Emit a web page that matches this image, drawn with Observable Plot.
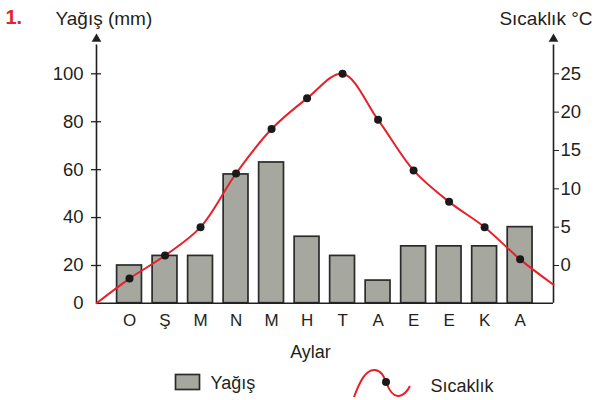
<!DOCTYPE html>
<html><head><meta charset="utf-8">
<script src="https://cdn.jsdelivr.net/npm/d3@7"></script>
<script src="https://cdn.jsdelivr.net/npm/@observablehq/plot@0.6"></script>
<style>
body{margin:0;background:#fff;font-family:"Liberation Sans",Arial,sans-serif;}
#chart{width:594px;}
#legend{display:block;}
</style>
</head><body><div id="chart"></div>
<script>
// ---- data ----
const months = ["O","Ş","M","N","M","H","T","A","E","E","K","A"];
const precipitation = [20,24,24,58,63,32,24,12,28,28,28,36];
const temperature = [-1.7,1.3,5.0,12.0,17.8,21.8,25.0,19.0,12.4,8.3,5.0,0.8];
const tempStart = -4.9; // where the curve leaves the left axis
const tempEnd = -2.5;   // where the curve meets the right axis
const precipTicks = [0,20,40,60,80,100];
const tempTicks = [0,5,10,15,20,25];

// ---- layout ----
const W = 594, H = 365;
const xMin = -0.93, xMax = 11.94;
const ink = "#231f20";
const red = "#e8202a";
// temperature expressed in precipitation units (right axis 0 ↔ 20 mm, 25 ↔ 100 mm)
const tScale = d3.scaleLinear().domain([tempStart, 0, 25]).range([0, 20, 100]);

const bars = months.map((m, i) => ({i, m, p: precipitation[i]}));
const tPts = months.map((m, i) => ({i, t: temperature[i]}));
const tLine = [{i: xMin, t: tempStart}, ...tPts, {i: xMax, t: tempEnd}];

const plot = Plot.plot({
  width: W, height: H,
  marginLeft: 96, marginRight: 41, marginTop: 70, marginBottom: 62,
  style: {fontFamily: "'Liberation Sans', Arial, sans-serif", fontSize: "18px", color: ink, background: "#fff"},
  x: {type: "linear", domain: [xMin, xMax]},
  y: {type: "linear", domain: [0, 20, 100], range: [302.7, 265, 73.3]},
  marks: [
    Plot.rect(bars, {x1: d => d.i - 0.35, x2: d => d.i + 0.35, y1: 0, y2: "p", fill: "#a6a79f", stroke: "#2b2b2b", strokeWidth: 1.7}),
    Plot.ruleY([0], {stroke: ink, strokeWidth: 1.6}),
    Plot.ruleX([xMin, xMax], {y1: 0, y2: 112, stroke: ink, strokeWidth: 1.6}),
    Plot.dot([xMin, xMax], {x: d => d, y: () => 114.5, symbol: "triangle", r: 3.6, fill: ink}),
    Plot.ruleY(precipTicks.filter(v => v > 0), {x1: xMin - 0.14, x2: xMin + 0.14, stroke: ink, strokeWidth: 1.3}),
    Plot.axisY({anchor: "left", ticks: precipTicks, tickSize: 0, tickPadding: 13, label: null, fill: ink, fontSize: 18.5}),
    Plot.axisY({anchor: "right", ticks: tempTicks.map(t => tScale(t)), tickFormat: p => String(Math.round(tScale.invert(p))), tickSize: 5, tickPadding: 2, label: null, stroke: ink, fill: ink, fontSize: 18.5}),
    Plot.axisX({ticks: d3.range(months.length), tickFormat: i => months[i], tickSize: 0, tickPadding: 10, label: null, fill: ink, fontSize: 17}),
    Plot.line(tLine, {x: "i", y: d => tScale(d.t), curve: "catmull-rom", stroke: red, strokeWidth: 2}),
    Plot.dot(tPts, {x: "i", y: d => tScale(d.t), r: 4, fill: "#1a1a1a"}),
    Plot.text(["1."], {frameAnchor: "top-left", dx: -91, dy: -53, lineAnchor: "middle", textAnchor: "start", fill: "#e0262f", fontWeight: "bold", fontSize: 20}),
    Plot.text(["Yağış (mm)"], {frameAnchor: "top-left", dx: -41, dy: -52, lineAnchor: "middle", textAnchor: "start", fill: ink, fontSize: 19}),
    Plot.text(["Sıcaklık °C"], {frameAnchor: "top-right", dx: 39, dy: -52, lineAnchor: "middle", textAnchor: "end", fill: ink, fontSize: 19}),
    Plot.text(["Aylar"], {frameAnchor: "bottom", dx: -14.5, dy: 49, lineAnchor: "middle", fill: ink, fontSize: 18})
  ]
});
document.getElementById("chart").appendChild(plot);

const legend = `<svg id="legend" width="594" height="35" xmlns="http://www.w3.org/2000/svg" style="font-family:'Liberation Sans',Arial,sans-serif">
  <rect x="175.5" y="9.5" width="24" height="15" fill="#a6a79f" stroke="#2b2b2b" stroke-width="1.7"/>
  <text x="210.5" y="17.5" dy="0.35em" font-size="18" fill="${ink}">Yağış</text>
  <path d="M354,32 C360,16 366,4 375,5 C382,6 384,12 386,17 C389,25 393,32 399,31 C404,30 408,25 410,21" fill="none" stroke="${red}" stroke-width="2"/>
  <circle cx="386" cy="17" r="4" fill="#1a1a1a"/>
  <text x="430.5" y="20.5" dy="0.35em" font-size="18" fill="${ink}">Sıcaklık</text>
</svg>`;
document.getElementById("chart").insertAdjacentHTML("beforeend", legend);
</script>
</body></html>
